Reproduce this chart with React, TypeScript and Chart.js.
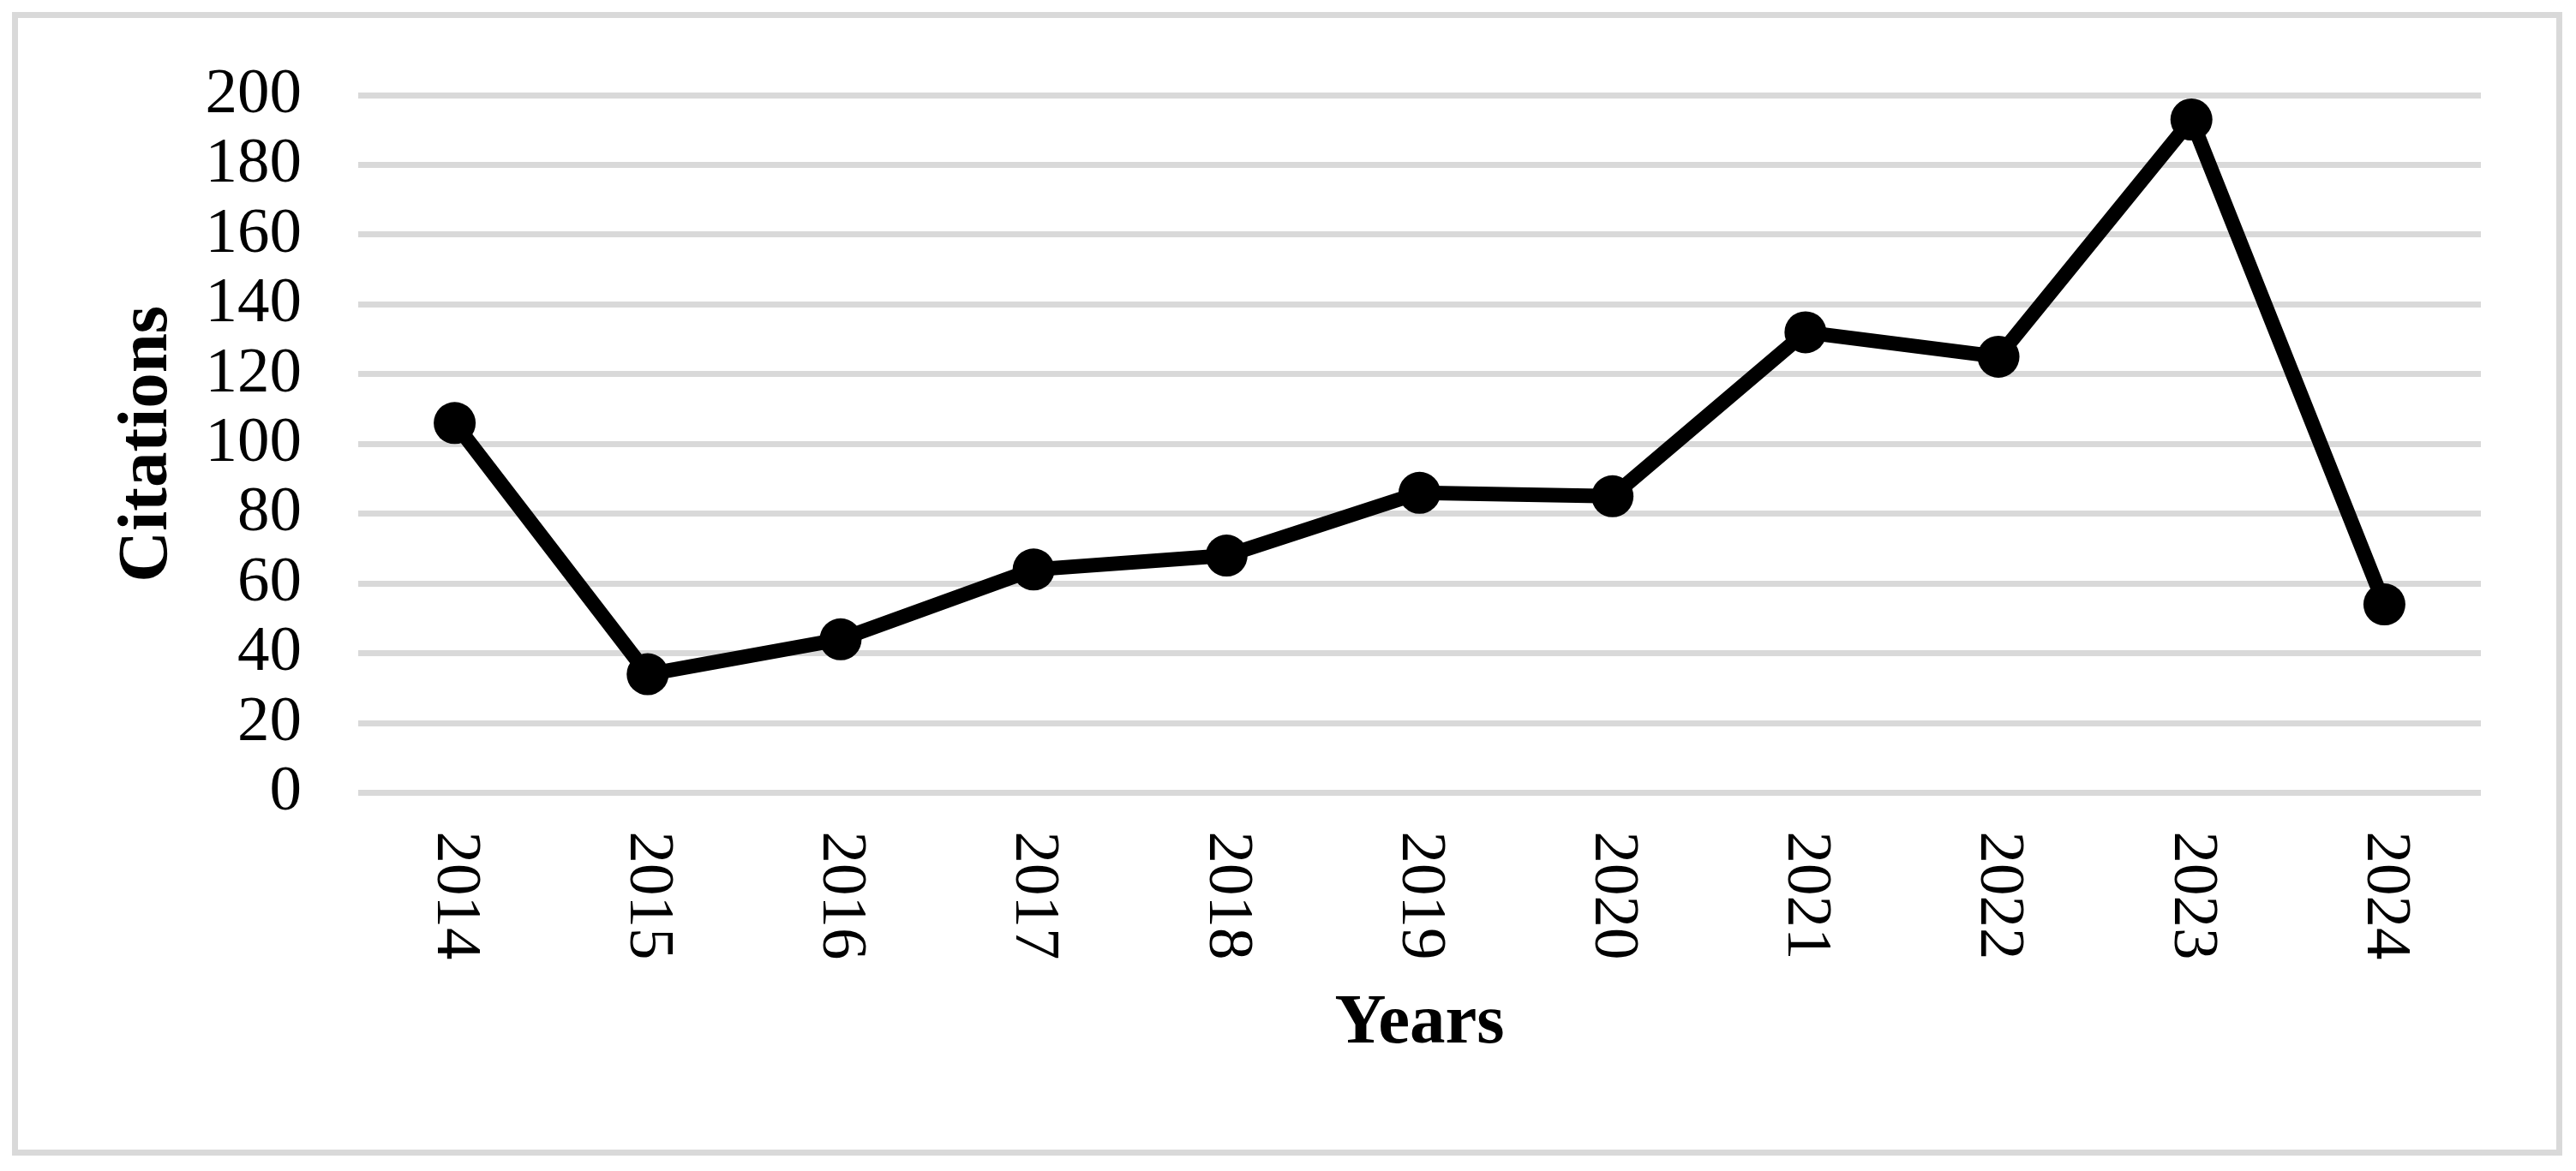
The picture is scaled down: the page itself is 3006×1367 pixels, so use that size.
import React, { useEffect, useRef } from "react";
import { Chart, registerables } from "chart.js";

Chart.register(...registerables);

// ---- Data ----
const years = ["2014", "2015", "2016", "2017", "2018", "2019", "2020", "2021", "2022", "2023", "2024"];
const citations = [106, 34, 44, 64, 68, 86, 85, 132, 125, 193, 54];
const yMin = 0;
const yMax = 200;
const yStep = 20;
const xTitle = "Years";
const yTitle = "Citations";

const W = 3006;
const H = 1367;
const FONT = '"Liberation Serif", "Times New Roman", serif';

const backgroundPlugin = {
  id: "bgBorder",
  beforeDraw(chart: any) {
    const ctx = chart.ctx;
    ctx.save();
    ctx.fillStyle = "#ffffff";
    ctx.fillRect(0, 0, chart.width, chart.height);
    ctx.strokeStyle = "#d9d9d9";
    ctx.lineWidth = 7;
    ctx.strokeRect(17.5, 17.5, 2969, 1328);
    ctx.restore();
  },
};

const xLabelPlugin = {
  id: "xRotatedLabels",
  afterDraw(chart: any) {
    const xs = chart.scales.x;
    const ctx = chart.ctx;
    const labels: string[] = chart.data.labels;
    ctx.save();
    ctx.font = `75px ${FONT}`;
    ctx.fillStyle = "#000000";
    ctx.textAlign = "left";
    ctx.textBaseline = "middle";
    labels.forEach((label, i) => {
      const x = xs.getPixelForTick(i);
      ctx.save();
      ctx.translate(x, xs.top + 45);
      ctx.rotate(Math.PI / 2);
      ctx.fillText(label, 0, 0);
      ctx.restore();
    });
    ctx.restore();
  },
};

export default function App() {
  const canvasRef = useRef<HTMLCanvasElement | null>(null);

  useEffect(() => {
    const canvas = canvasRef.current;
    if (!canvas) return;
    const chart = new Chart(canvas, {
      type: "line",
      data: {
        labels: years,
        datasets: [
          {
            label: yTitle,
            data: citations,
            borderColor: "#000000",
            backgroundColor: "#000000",
            borderWidth: 17,
            borderJoinStyle: "round",
            borderCapStyle: "round",
            pointRadius: 24.5,
            pointHoverRadius: 24.5,
            pointBorderWidth: 0,
            pointBackgroundColor: "#000000",
            pointBorderColor: "#000000",
            tension: 0,
            fill: false,
          },
        ],
      },
      options: {
        responsive: false,
        animation: false,
        devicePixelRatio: 1,
        layout: {
          padding: { top: 109.5, right: 111, bottom: 0, left: 0 },
        },
        plugins: {
          legend: { display: false },
          tooltip: { enabled: false },
          title: { display: false },
        },
        scales: {
          x: {
            type: "category",
            offset: true,
            grid: { display: false },
            border: { display: false },
            ticks: { display: false },
            title: {
              display: true,
              text: xTitle,
              color: "#000000",
              font: { family: FONT, size: 83, weight: "bold", lineHeight: 1.2 },
              padding: { top: 0, bottom: 122 },
            },
            afterFit(scale: any) {
              scale.height = 441.5;
            },
          },
          y: {
            min: yMin,
            max: yMax,
            border: { display: false },
            grid: {
              color: "#d9d9d9",
              lineWidth: 7,
              drawTicks: false,
            },
            ticks: {
              stepSize: yStep,
              autoSkip: false,
              padding: 66,
              color: "#000000",
              font: { family: FONT, size: 75 },
            },
            title: {
              display: true,
              text: yTitle,
              color: "#000000",
              font: { family: FONT, size: 83, weight: "bold", lineHeight: 1.2 },
              padding: { top: 123, bottom: 0 },
            },
            afterFit(scale: any) {
              scale.width = 418;
            },
          },
        },
      },
      plugins: [backgroundPlugin, xLabelPlugin],
    });
    return () => {
      chart.destroy();
    };
  }, []);

  return (
    <div style={{ position: "absolute", left: 0, top: 0, width: W, height: H, background: "#ffffff" }}>
      <canvas ref={canvasRef} width={W} height={H} style={{ width: W, height: H, display: "block" }} />
    </div>
  );
}
